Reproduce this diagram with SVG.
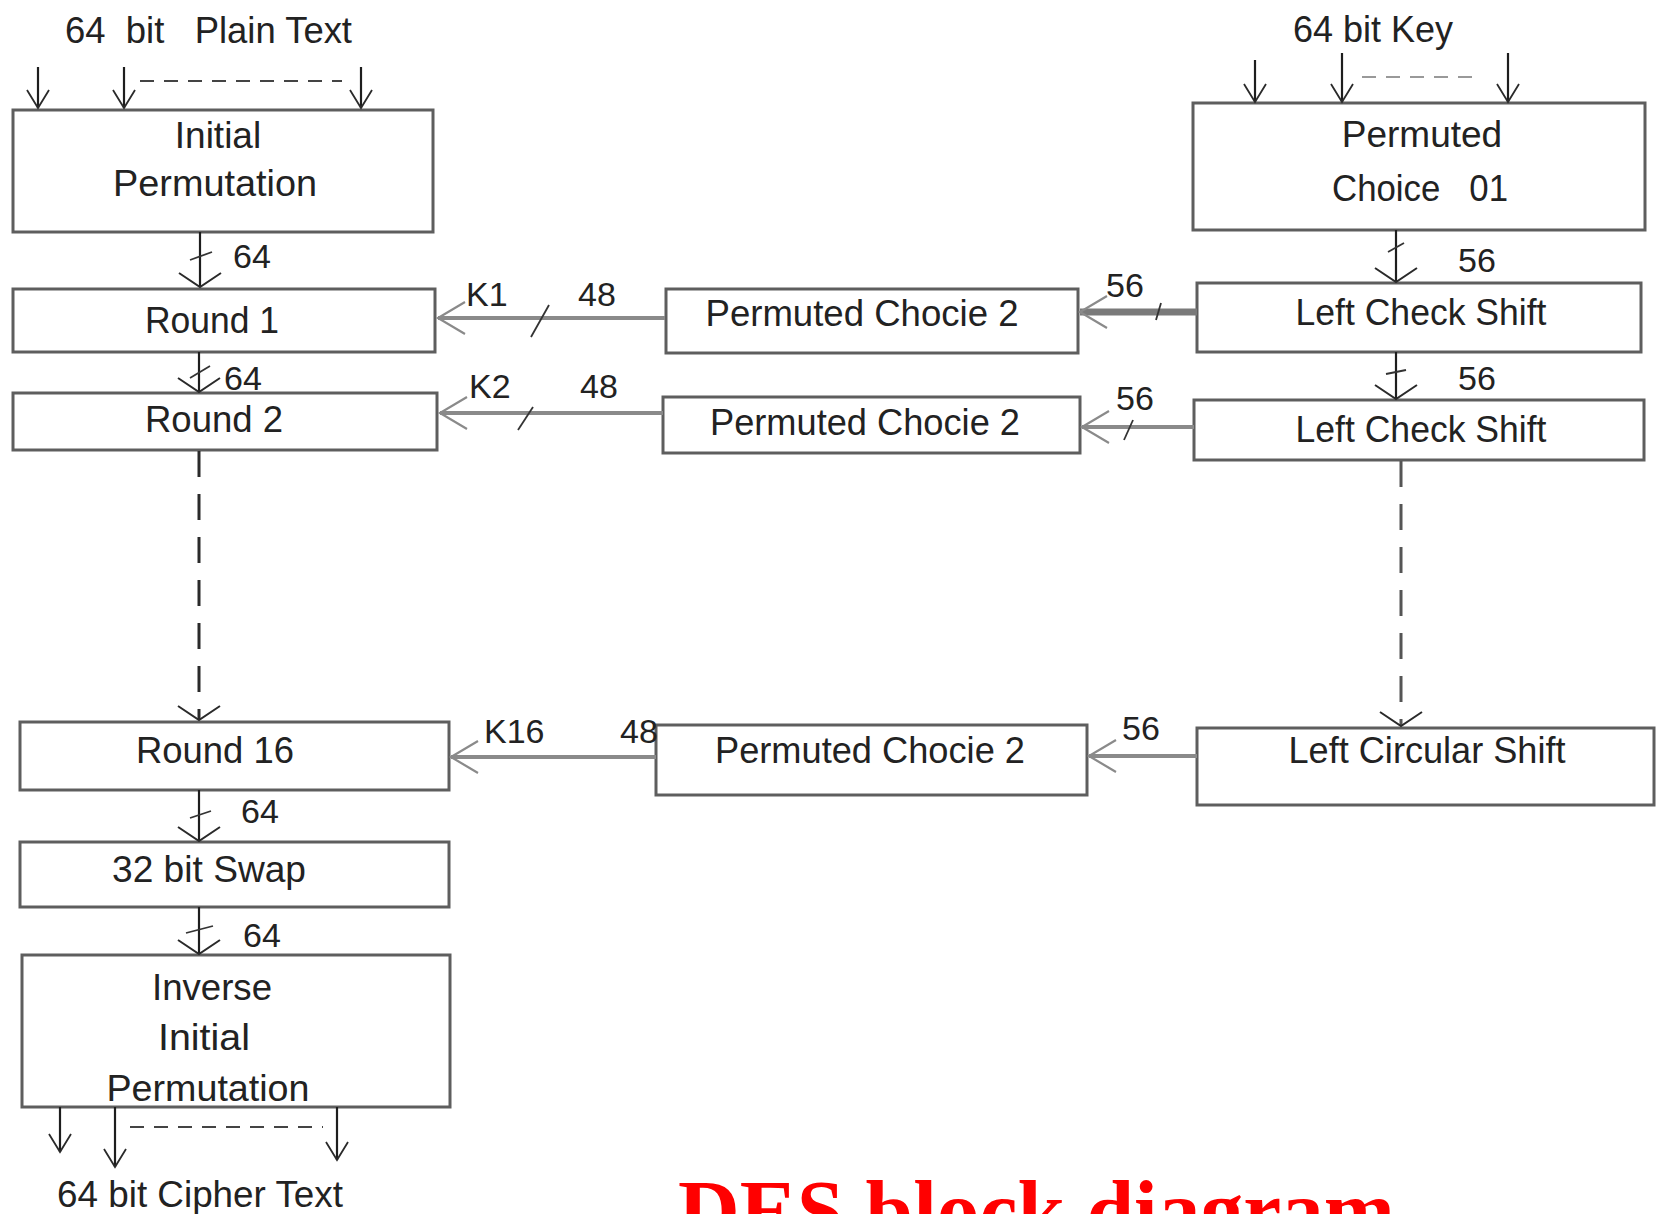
<svg xmlns="http://www.w3.org/2000/svg" width="1663" height="1214" viewBox="0 0 1663 1214">
<style>
.box{fill:#fff;stroke:#5e5e5e;stroke-width:3}
.t{font-family:"Liberation Sans",Arial,sans-serif;font-size:37px;fill:#222;text-anchor:middle}
.lbl{font-family:"Liberation Sans",Arial,sans-serif;font-size:34px;fill:#222}
.v{stroke:#1e1e1e;stroke-width:2.2;fill:none}
.h{stroke:#8a8a8a;stroke-width:4;fill:none}
.hk{stroke:#7a7a7a;stroke-width:7;fill:none}
.d{stroke:#2a2a2a;stroke-width:3;fill:none;stroke-dasharray:26 17}
.dd{stroke:#444;stroke-width:2;fill:none;stroke-dasharray:14 10}
.tick{stroke:#333;stroke-width:1.8;fill:none}
.title{font-family:"Liberation Serif","Times New Roman",serif;font-weight:bold;font-size:86px;fill:#ff0000}
</style>
<defs>
<marker id="vh" markerUnits="userSpaceOnUse" markerWidth="40" markerHeight="50" viewBox="-20 -25 40 50" refX="0" refY="0" orient="auto" overflow="visible">
<path d="M-14,-21 L0,0 L-14,21" fill="none" stroke="#2a2a2a" stroke-width="2"/>
</marker>
<marker id="sh" markerUnits="userSpaceOnUse" markerWidth="40" markerHeight="40" viewBox="-20 -20 40 40" refX="0" refY="0" orient="auto" overflow="visible">
<path d="M-18,-11 L0,0 L-18,11" fill="none" stroke="#2a2a2a" stroke-width="1.8"/>
</marker>
<marker id="hh" markerUnits="userSpaceOnUse" markerWidth="40" markerHeight="40" viewBox="-30 -20 40 40" refX="0" refY="0" orient="auto" overflow="visible">
<path d="M-27,-16 L0,0 L-27,16" fill="none" stroke="#8a8a8a" stroke-width="2.2"/>
</marker>
</defs>
<rect width="1663" height="1214" fill="#fff"/>

<g id="nodes">
<g id="plaintext"><text class="t" x="65" y="43" text-anchor="start" style="text-anchor:start;white-space:pre" textLength="287" lengthAdjust="spacingAndGlyphs">64  bit   Plain Text</text></g>
<g id="key"><text class="t" x="1293" y="42" style="text-anchor:start" textLength="160" lengthAdjust="spacingAndGlyphs">64 bit Key</text></g>
<g id="ip"><rect class="box" x="13" y="110" width="420" height="122"/>
<text class="t" x="218" y="148">Initial</text><text class="t" x="215" y="196" textLength="204" lengthAdjust="spacingAndGlyphs">Permutation</text></g>
<g id="pc1"><rect class="box" x="1193" y="103" width="452" height="127"/>
<text class="t" x="1422" y="147">Permuted</text><text class="t" x="1420" y="201" style="white-space:pre" textLength="176" lengthAdjust="spacingAndGlyphs">Choice   01</text></g>
<g id="round1"><rect class="box" x="13" y="289" width="422" height="63"/><text class="t" x="212" y="333" textLength="134" lengthAdjust="spacingAndGlyphs">Round 1</text></g>
<g id="round2"><rect class="box" x="13" y="393" width="424" height="57"/><text class="t" x="214" y="432" textLength="138" lengthAdjust="spacingAndGlyphs">Round 2</text></g>
<g id="pc2a"><rect class="box" x="666" y="289" width="412" height="64"/><text class="t" x="862" y="326" textLength="313" lengthAdjust="spacingAndGlyphs">Permuted Chocie 2</text></g>
<g id="lcs1"><rect class="box" x="1197" y="283" width="444" height="69"/><text class="t" x="1421" y="325" textLength="251" lengthAdjust="spacingAndGlyphs">Left Check Shift</text></g>
<g id="pc2b"><rect class="box" x="663" y="397" width="417" height="56"/><text class="t" x="865" y="435" textLength="310" lengthAdjust="spacingAndGlyphs">Permuted Chocie 2</text></g>
<g id="lcs2"><rect class="box" x="1194" y="400" width="450" height="60"/><text class="t" x="1421" y="442" textLength="251" lengthAdjust="spacingAndGlyphs">Left Check Shift</text></g>
<g id="round16"><rect class="box" x="20" y="722" width="429" height="68"/><text class="t" x="215" y="763" textLength="158" lengthAdjust="spacingAndGlyphs">Round 16</text></g>
<g id="pc2c"><rect class="box" x="656" y="725" width="431" height="70"/><text class="t" x="870" y="763" textLength="310" lengthAdjust="spacingAndGlyphs">Permuted Chocie 2</text></g>
<g id="lcirs"><rect class="box" x="1197" y="728" width="457" height="77"/><text class="t" x="1427" y="763" textLength="277" lengthAdjust="spacingAndGlyphs">Left Circular Shift</text></g>
<g id="swap"><rect class="box" x="20" y="842" width="429" height="65"/><text class="t" x="209" y="882" textLength="194" lengthAdjust="spacingAndGlyphs">32 bit Swap</text></g>
<g id="iip"><rect class="box" x="22" y="955" width="428" height="152"/>
<text class="t" x="212" y="1000" textLength="120" lengthAdjust="spacingAndGlyphs">Inverse</text>
<text class="t" x="204" y="1050" textLength="92" lengthAdjust="spacingAndGlyphs">Initial</text>
<text class="t" x="208" y="1101" textLength="203" lengthAdjust="spacingAndGlyphs">Permutation</text></g>
<g id="ciphertext"><text class="t" x="57" y="1207" style="text-anchor:start" textLength="286" lengthAdjust="spacingAndGlyphs">64 bit Cipher Text</text></g>
<g id="title"><text class="title" x="678" y="1240" textLength="717" lengthAdjust="spacingAndGlyphs">DES block diagram</text></g>
</g>

<g id="connectors">
<!-- plain text inputs -->
<line class="v" x1="38" y1="67" x2="38" y2="108" marker-end="url(#sh)"/>
<line class="v" x1="124" y1="67" x2="124" y2="108" marker-end="url(#sh)"/>
<line class="v" x1="361" y1="67" x2="361" y2="108" marker-end="url(#sh)"/>
<line class="dd" x1="140" y1="81" x2="342" y2="81"/>
<!-- key inputs -->
<line class="v" x1="1255" y1="60" x2="1255" y2="102" marker-end="url(#sh)"/>
<line class="v" x1="1342" y1="53" x2="1342" y2="102" marker-end="url(#sh)"/>
<line class="v" x1="1508" y1="53" x2="1508" y2="102" marker-end="url(#sh)"/>
<line class="dd" x1="1362" y1="77" x2="1477" y2="77" style="stroke:#999"/>
<!-- left column -->
<line class="v" x1="200" y1="232" x2="200" y2="287" marker-end="url(#vh)"/>
<line class="tick" x1="190" y1="260" x2="212" y2="252"/>
<text class="lbl" x="233" y="268">64</text>
<line class="v" x1="199" y1="352" x2="199" y2="392" marker-end="url(#vh)"/>
<line class="tick" x1="190" y1="378" x2="210" y2="366"/>
<text class="lbl" x="224" y="390">64</text>
<line class="d" x1="199" y1="451" x2="199" y2="720" marker-end="url(#vh)"/>
<line class="v" x1="199" y1="790" x2="199" y2="841" marker-end="url(#vh)"/>
<line class="tick" x1="190" y1="818" x2="211" y2="811"/>
<text class="lbl" x="241" y="823">64</text>
<line class="v" x1="199" y1="907" x2="199" y2="954" marker-end="url(#vh)"/>
<line class="tick" x1="186" y1="933" x2="213" y2="926"/>
<text class="lbl" x="243" y="947">64</text>
<!-- outputs -->
<line class="v" x1="60" y1="1107" x2="60" y2="1152" marker-end="url(#sh)"/>
<line class="v" x1="115" y1="1107" x2="115" y2="1167" marker-end="url(#sh)"/>
<line class="v" x1="337" y1="1107" x2="337" y2="1160" marker-end="url(#sh)"/>
<line class="dd" x1="130" y1="1127" x2="323" y2="1127"/>
<!-- right column -->
<line class="v" x1="1396" y1="230" x2="1396" y2="282" marker-end="url(#vh)"/>
<line class="tick" x1="1388" y1="252" x2="1404" y2="243"/>
<text class="lbl" x="1458" y="272">56</text>
<line class="v" x1="1396" y1="352" x2="1396" y2="399" marker-end="url(#vh)"/>
<line class="tick" x1="1386" y1="374" x2="1406" y2="370"/>
<text class="lbl" x="1458" y="390">56</text>
<line class="d" x1="1401" y1="461" x2="1401" y2="726" marker-end="url(#vh)" style="stroke:#555"/>
<!-- key schedule horizontal -->
<line class="hk" x1="1197" y1="312" x2="1080" y2="312" marker-end="url(#hh)"/>
<line class="tick" x1="1156" y1="320" x2="1161" y2="303"/>
<text class="lbl" x="1106" y="297">56</text>
<line class="h" x1="1194" y1="427" x2="1082" y2="427" marker-end="url(#hh)"/>
<line class="tick" x1="1124" y1="440" x2="1133" y2="420"/>
<text class="lbl" x="1116" y="410">56</text>
<line class="h" x1="1197" y1="756" x2="1089" y2="756" marker-end="url(#hh)"/>
<text class="lbl" x="1122" y="740">56</text>
<!-- subkeys -->
<line class="h" x1="665" y1="318" x2="438" y2="318" marker-end="url(#hh)"/>
<line class="tick" x1="531" y1="337" x2="549" y2="305"/>
<text class="lbl" x="466" y="306">K1</text>
<text class="lbl" x="578" y="306">48</text>
<line class="h" x1="663" y1="413" x2="440" y2="413" marker-end="url(#hh)"/>
<line class="tick" x1="518" y1="430" x2="533" y2="407"/>
<text class="lbl" x="469" y="398">K2</text>
<text class="lbl" x="580" y="398">48</text>
<line class="h" x1="656" y1="757" x2="451" y2="757" marker-end="url(#hh)"/>
<text class="lbl" x="484" y="743">K16</text>
<text class="lbl" x="620" y="743">48</text>
</g>
</svg>
